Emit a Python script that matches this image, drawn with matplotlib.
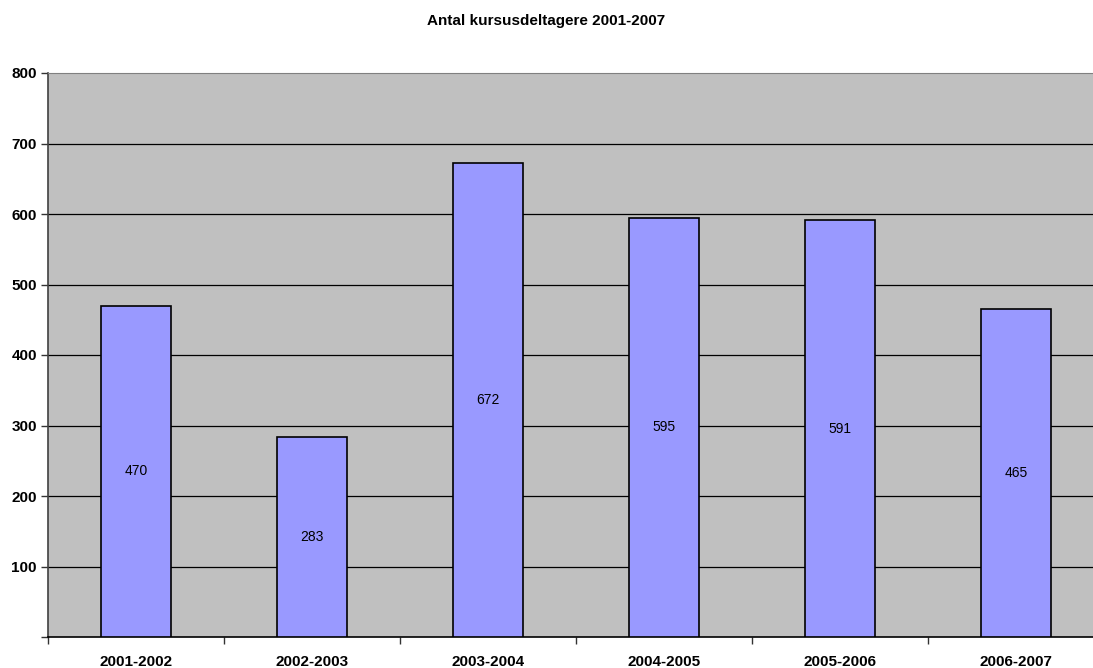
import matplotlib.pyplot as plt
import numpy as np

plt.rcParams['font.family'] = ['Liberation Sans', 'DejaVu Sans']

categories = ['2001-2002', '2002-2003', '2003-2004', '2004-2005', '2005-2006', '2006-2007']
values = [470, 283, 672, 595, 591, 465]
yticks = [100, 200, 300, 400, 500, 600, 700, 800]

fig = plt.figure(figsize=(10.93, 6.68), dpi=100)
ax = fig.add_axes([48 / 1093, 31 / 668, 1056 / 1093, 564 / 668])
ax.set_facecolor('#c0c0c0')

x = np.arange(len(categories))
bars = ax.bar(x, values, width=0.40, color='#9999ff', edgecolor='black', linewidth=1.2, zorder=3)
for b, v in zip(bars, values):
    ax.text(b.get_x() + b.get_width() / 2, v / 2, str(v), ha='center', va='center', fontsize=10, zorder=4)

ax.set_xlim(-0.5, len(categories) - 0.5)
ax.set_ylim(0, 800)
ax.set_yticks([0] + yticks)
ax.set_yticklabels([''] + [str(t) for t in yticks], fontsize=11, fontweight='bold')
for t in yticks[:-1]:
    ax.axhline(t, color='black', linewidth=0.9, zorder=1)

# category labels centred, tick marks on boundaries
ax.set_xticks(x)
ax.set_xticklabels(categories, fontsize=11, fontweight='bold')
ax.tick_params(axis='x', length=0, pad=13)
ax.set_xticks(np.arange(-0.5, len(categories), 1), minor=True)
ax.tick_params(axis='x', which='minor', length=5, width=1, color='#333333', direction='out')
ax.tick_params(axis='y', length=5, width=1, color='#333333', direction='out', pad=3)

ax.spines['right'].set_visible(False)
ax.spines['top'].set_color('#808080')
ax.spines['left'].set_color('#404040')
ax.spines['left'].set_linewidth(1.2)
ax.spines['bottom'].set_color('black')
ax.spines['bottom'].set_linewidth(1.2)

fig.text(0.5, 1 - 21 / 668, 'Antal kursusdeltagere 2001-2007', ha='center', va='center', fontsize=11, fontweight='bold')

fig.savefig('out.png', dpi=100)
